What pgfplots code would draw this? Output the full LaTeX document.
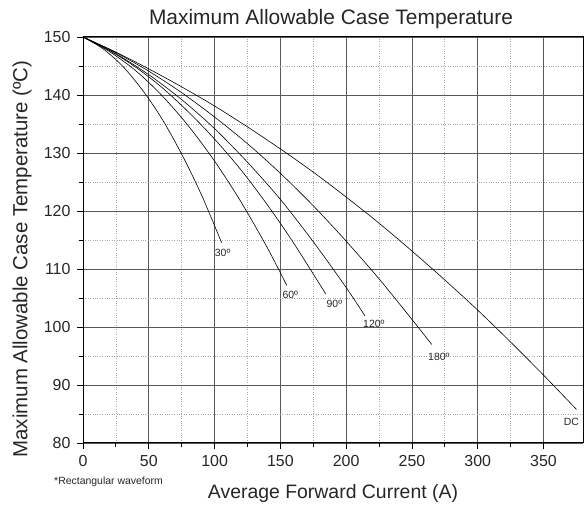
\documentclass[border=0pt]{standalone}
\usepackage{fontspec}
\setmainfont{Liberation Sans}
\usepackage{pgfplots}
\pgfplotsset{compat=1.18}

\begin{document}
\begin{tikzpicture}[x=1bp,y=1bp]
\path[use as bounding box] (-83,-65) rectangle (505,443);
\begin{axis}[
  at={(0,0)}, anchor=south west,
  scale only axis, width=500bp, height=406bp,
  xmin=0, xmax=380, ymin=80, ymax=150,
  xtick={0,50,...,350}, ytick={80,90,...,150},
  minor x tick num=1, minor y tick num=1,
  grid=both,
  major grid style={draw=black!65, line width=0.8bp},
  minor grid style={draw=black!35, dash pattern=on 0.8bp off 1.6bp, line width=0.7bp},
  axis line style={black, line width=1bp},
  tick align=outside, tick pos=left,
  major tick length=6bp, minor tick length=4bp,
  every tick/.style={black, line width=0.8bp},
  /pgf/number format/assume math mode=true,
  ticklabel style={font=\fontsize{16}{16}\selectfont, color=black!85},
  xticklabel style={yshift=-3bp},
  yticklabel style={xshift=-3bp},
  clip=false,
]
% DC
\addplot[black, line width=0.6bp, smooth] coordinates {
  (0,150) (25,147.4) (50,144.5) (75,141.4) (100,138.1) (125,134.5)
  (150,130.7) (175,126.7) (200,122.4) (225,117.9) (250,113.1)
  (275,108.1) (300,102.9) (325,97.4) (350,91.7) (375,85.8)};
% 180 deg
\addplot[black, line width=0.6bp, smooth] coordinates {
  (0,150) (25,147.3) (50,144.1) (75,140.4) (100,136.2) (125,131.6)
  (150,126.5) (175,120.9) (200,114.8) (225,108.3) (250,101.3) (265,97.0)};
% 120 deg
\addplot[black, line width=0.6bp, smooth] coordinates {
  (0,150) (25,147.1) (50,143.5) (75,139.2) (100,134.2) (125,128.4)
  (150,122.0) (175,114.7) (200,106.8) (214.3,101.9)};
% 90 deg
\addplot[black, line width=0.6bp, smooth] coordinates {
  (0,150) (20,147.7) (40,144.8) (60,141.3) (80,137.1) (100,132.4)
  (120,127.1) (140,121.1) (160,114.5) (184.5,105.7)};
% 60 deg
\addplot[black, line width=0.6bp, smooth] coordinates {
  (0,150) (20,147.5) (40,144.2) (60,139.9) (80,134.7) (100,128.6)
  (120,121.6) (140,113.7) (154.8,107.2)};
% 30 deg
\addplot[black, line width=0.6bp, smooth] coordinates {
  (0,150) (15,148.0) (30,145.0) (45,140.9) (60,135.9) (75,129.8)
  (90,122.8) (105.4,114.5)};

\begin{scope}[every node/.style={font=\fontsize{10.5}{10.5}\selectfont, anchor=base west, inner sep=0pt, text=black!85}]
\node at (axis cs:100.1,112.2) {30º};
\node at (axis cs:151.5,104.9) {60º};
\node at (axis cs:185.0,103.3) {90º};
\node at (axis cs:212.8,99.9) {120º};
\node at (axis cs:262.2,94.3) {180º};
\node at (axis cs:365.3,83.0) {DC};
\end{scope}
\end{axis}

% titles and captions
\node[anchor=base, inner sep=0pt, font=\fontsize{21}{21}\selectfont, text=black!85] at (248,418) {Maximum Allowable Case Temperature};
\node[anchor=base, inner sep=0pt, font=\fontsize{19.5}{19.5}\selectfont, text=black!85] at (250,-56) {Average Forward Current (A)};
\node[anchor=base west, inner sep=0pt, font=\fontsize{10.5}{10.5}\selectfont, text=black!85] at (-29,-42) {*Rectangular waveform};
\node[rotate=90, inner sep=0pt, font=\fontsize{20.5}{20.5}\selectfont, text=black!85] at (-61,184) {Maximum Allowable Case Temperature (ºC)};
\end{tikzpicture}
\end{document}
